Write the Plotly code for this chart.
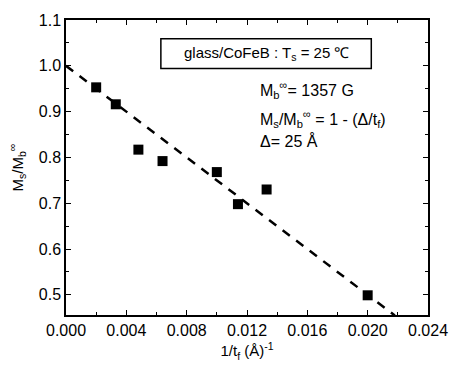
import plotly.graph_objects as go

# data
inv_tf = [0.0020, 0.0033, 0.0048, 0.0064, 0.0100, 0.0114, 0.0133, 0.0200]
ms_mb = [0.953, 0.916, 0.817, 0.792, 0.768, 0.698, 0.730, 0.499]

# fit line: Ms/Mb = 1 - (Delta/tf), Delta = 25 A
delta = 25.0
fit_x = [0.0, 0.0218]
fit_y = [1 - delta * v for v in fit_x]

x_ticks = [0.000, 0.004, 0.008, 0.012, 0.016, 0.020, 0.024]
y_ticks = [0.5, 0.6, 0.7, 0.8, 0.9, 1.0, 1.1]

FONT = "Liberation Sans, Arial, sans-serif"

fig = go.Figure()
fig.add_trace(go.Scatter(
    x=fit_x, y=fit_y, mode="lines",
    line=dict(color="black", width=2.5, dash="9px,8px"),
    showlegend=False, hoverinfo="skip"))
fig.add_trace(go.Scatter(
    x=inv_tf, y=ms_mb, mode="markers",
    marker=dict(symbol="square", size=10, color="black"),
    showlegend=False))

axis_common = dict(
    showline=True, linecolor="black", linewidth=1.5, mirror="ticks",
    ticks="inside", ticklen=5, tickwidth=1.2, tickcolor="black",
    showgrid=False, zeroline=False,
    tickfont=dict(family=FONT, size=16, color="black"),
)

fig.update_xaxes(
    range=[0, 0.024], tickvals=x_ticks, tickformat=".3f",
    minor=dict(ticks="inside", ticklen=3, dtick=0.002, tickcolor="black", tickwidth=1.2, showgrid=False),
    title=dict(text="1/t<sub>f</sub> (Å)<sup>-1</sup>", font=dict(family=FONT, size=15, color="black"), standoff=8),
    **axis_common)
fig.update_yaxes(
    range=[0.456, 1.1], tickvals=y_ticks, tickformat=".1f",
    minor=dict(ticks="inside", ticklen=3, dtick=0.05, tickcolor="black", tickwidth=1.2, showgrid=False),
    title=dict(text="M<sub>s</sub>/M<sub>b</sub><sup>∞</sup>", font=dict(family=FONT, size=15, color="black"), standoff=12),
    **axis_common)

# boxed label
fig.add_shape(type="rect", xref="x", yref="y",
              x0=0.00629, x1=0.02024, y0=0.9939, y1=1.0589,
              line=dict(color="black", width=1.5), fillcolor="white", layer="above")
fig.add_annotation(x=0.01327, y=1.0264, xref="x", yref="y",
                   text="glass/CoFeB : T<sub>s</sub> = 25 ℃", showarrow=False,
                   font=dict(family=FONT, size=15, color="black"))

ann_font = dict(family=FONT, size=16, color="black")
fig.add_annotation(x=0.0127, y=0.947, xref="x", yref="y", xanchor="left",
                   text="M<sub>b</sub><sup>∞</sup>= 1357 G", showarrow=False, font=ann_font)
fig.add_annotation(x=0.0127, y=0.884, xref="x", yref="y", xanchor="left",
                   text="M<sub>s</sub>/M<sub>b</sub><sup>∞</sup> = 1 - (Δ/t<sub>f</sub>)", showarrow=False, font=ann_font)
fig.add_annotation(x=0.0127, y=0.835, xref="x", yref="y", xanchor="left",
                   text="Δ= 25 Å", showarrow=False, font=ann_font)

fig.update_layout(
    width=460, height=372,
    margin=dict(l=66, r=24, t=16, b=57),
    paper_bgcolor="white", plot_bgcolor="white",
    font=dict(family=FONT, color="black"),
)

fig.write_html("out.html")
